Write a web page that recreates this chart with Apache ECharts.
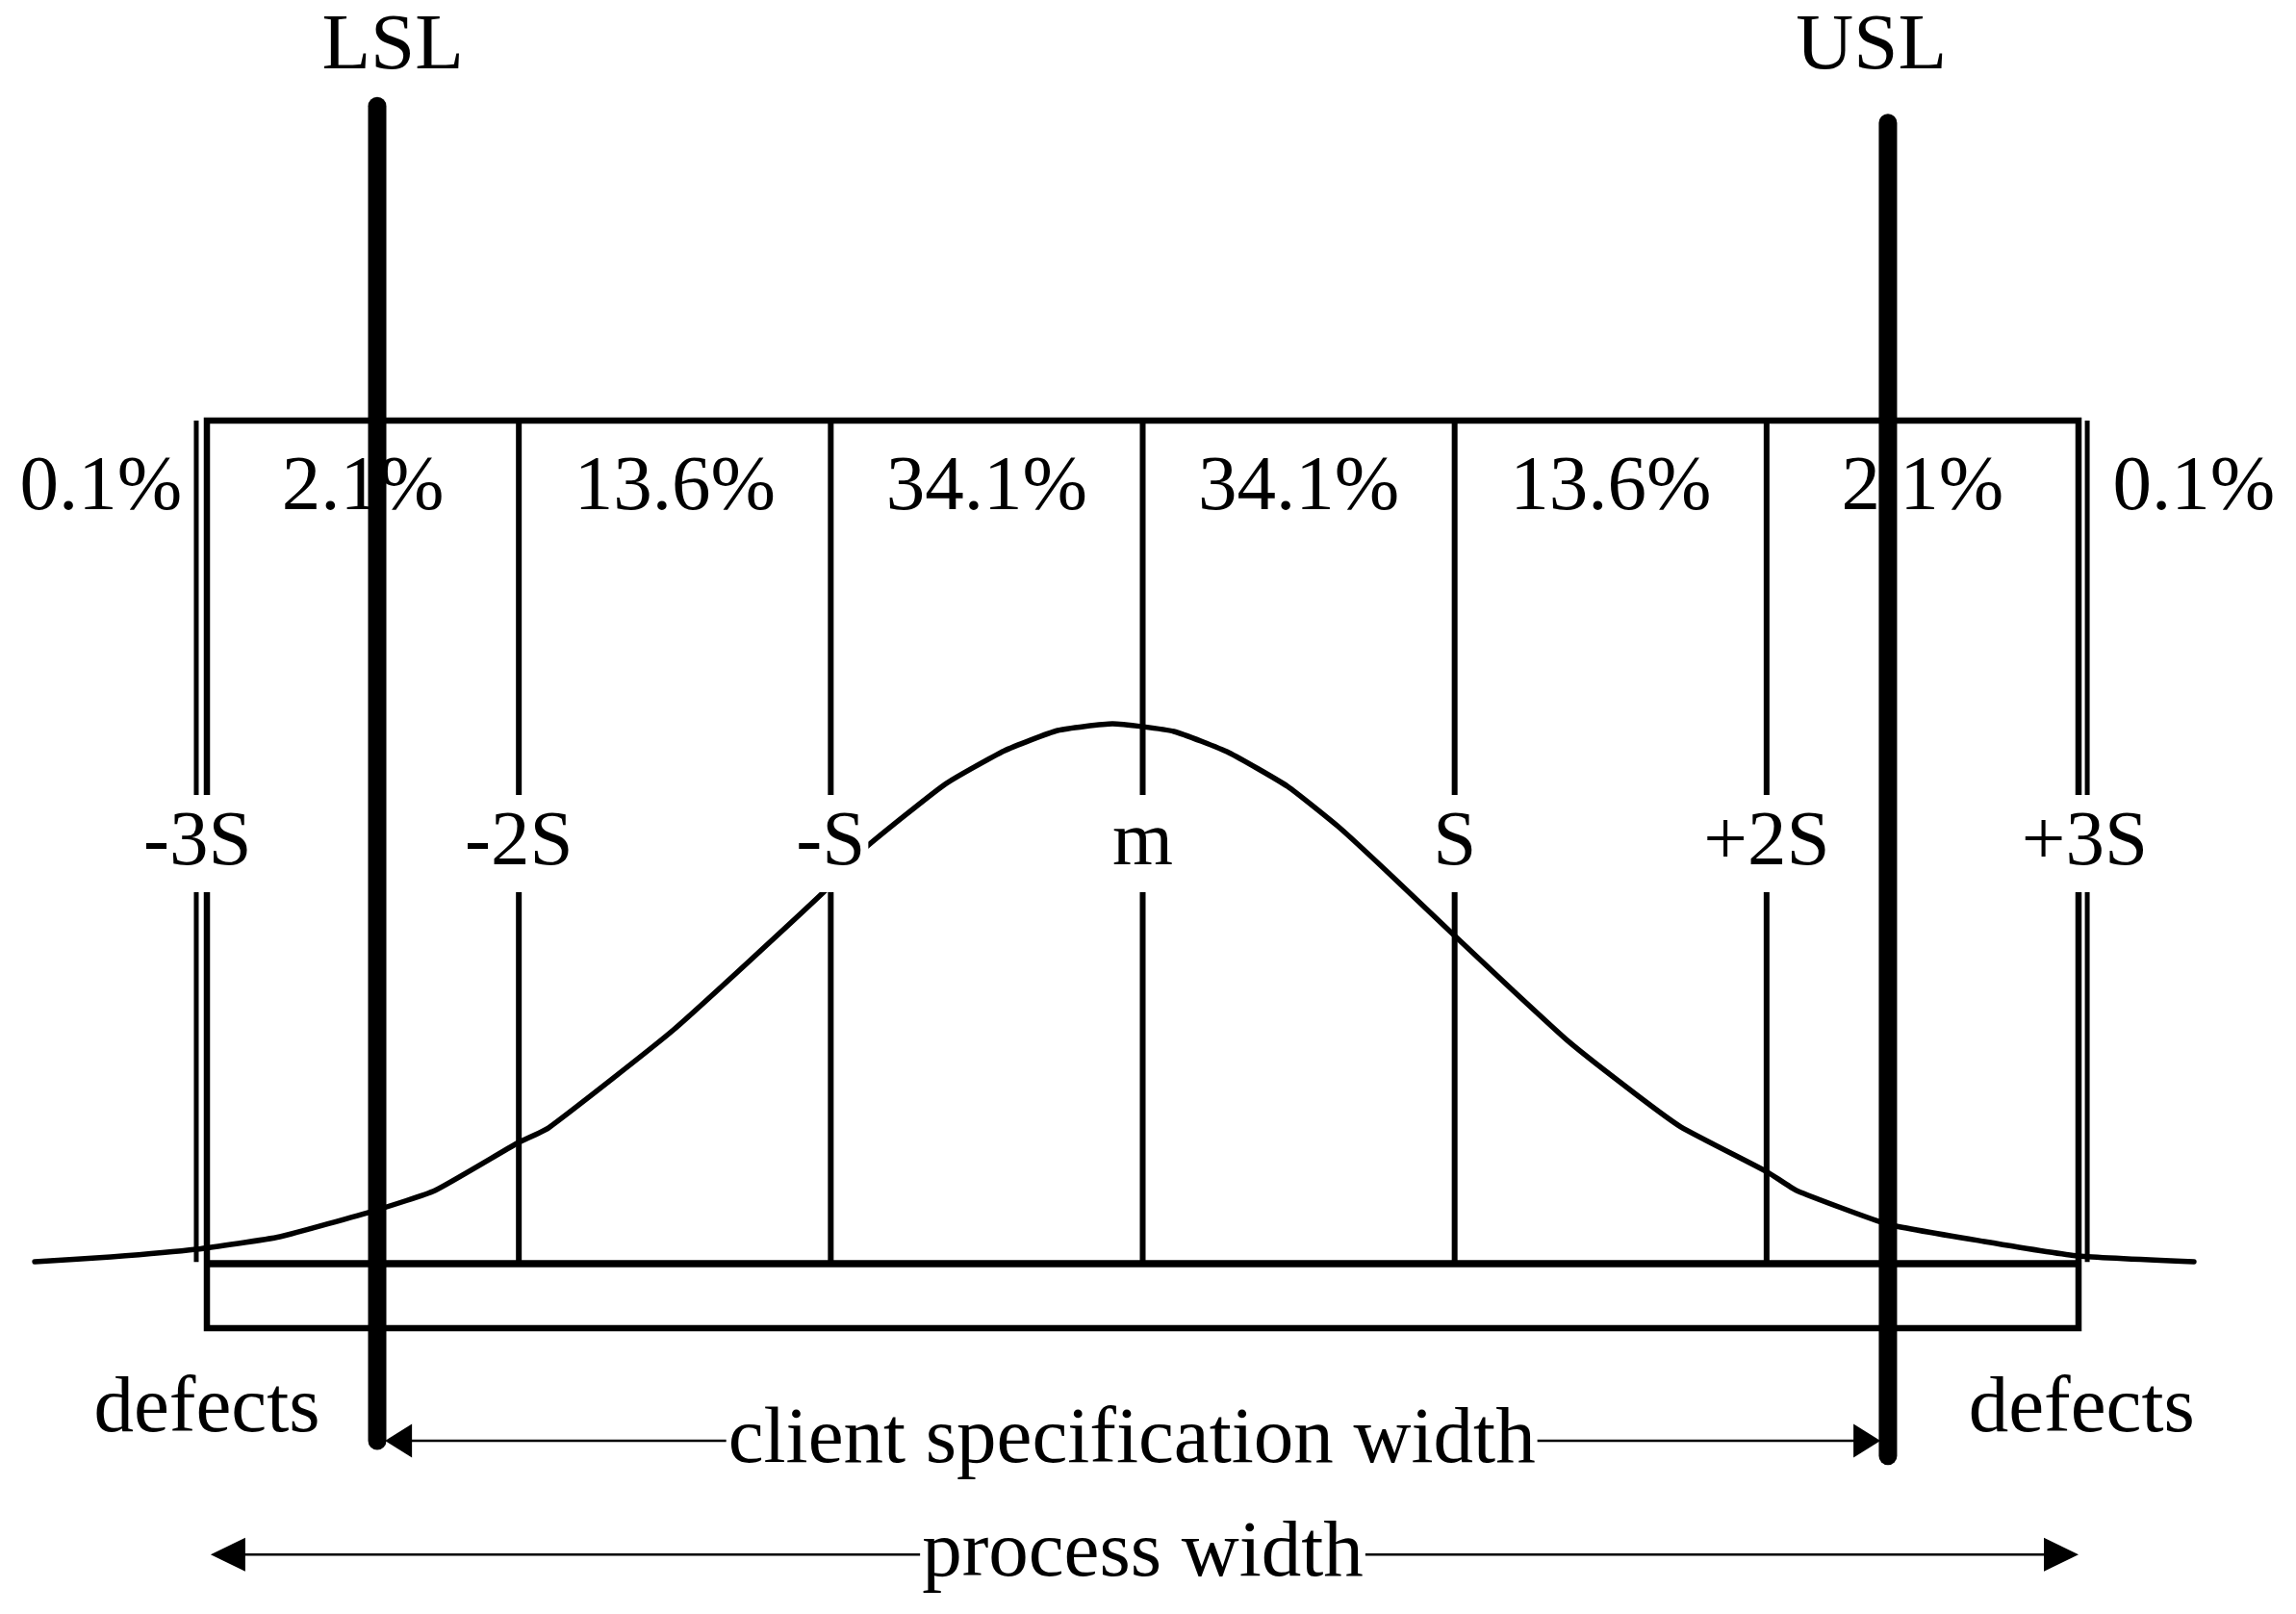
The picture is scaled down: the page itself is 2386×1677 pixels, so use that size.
<!DOCTYPE html>
<html><head><meta charset="utf-8">
<script src="https://cdn.jsdelivr.net/npm/echarts@6/dist/echarts.min.js"></script>
<style>html,body{margin:0;padding:0;background:#fff}#c{width:2386px;height:1677px}</style>
</head><body><div id="c"></div>
<script>
// ---- data (x in sigma units, y in relative height: 0 = baseline, 100 = top of band frame) ----
const sigmaTicks = [-3, -2, -1, 0, 1, 2, 3];
const sigmaLabels = ['-3S', '-2S', '-S', 'm', 'S', '+2S', '+3S'];
const sigmaLabelX = [-3.03, -2, -1, 0, 1, 2, 3.02];
const bandShares = ['0.1%', '2.1%', '13.6%', '34.1%', '34.1%', '13.6%', '2.1%', '0.1%'];
const bandLabelX = [-3.34, -2.5, -1.5, -0.5, 0.5, 1.5, 2.5, 3.37];
const curveX = [-3.552, -3.308, -3.034, -2.766, -2.454, -2.269, -2.006, -1.905, -1.504, -1.023, -0.893, -0.634, -0.443, -0.273, -0.097, 0.100, 0.276, 0.464, 0.631, 0.788, 0.986, 1.183, 1.368, 1.581, 1.726, 2.004, 2.096, 2.389, 2.698, 3.000, 3.370];
const curveY = [0.23, 0.80, 1.71, 3.20, 6.39, 8.68, 14.27, 16.10, 27.74, 44.06, 49.20, 56.85, 60.84, 63.24, 64.04, 63.13, 60.62, 56.62, 51.71, 46.35, 39.38, 32.53, 26.26, 20.09, 16.2, 10.84, 8.68, 4.68, 2.63, 0.91, 0.23];
const specLimits = ['LSL', 'USL'];
const specLimitX = [-2.454, 2.389];
const specLimitTop = [137.3, 135.3];
const specLimitBottom = [-21.0, -22.8];
const specLabelX = [-2.404, 2.336];
const processMarkX = [-3.034, 3.028];
const defectLabels = ['defects', 'defects'];
const defectLabelX = [-3.0, 3.01];
const widthLabels = ['client specification width', 'process width'];
const widthFrom = [-2.429, -2.988];
const widthTo = [2.365, 3.0];
const widthLevel = [-21.0, -34.5];
const widthLabelX = [-0.035, 0];

// ---- layout constants ----
const W = 2386, FRAME_LEFT = 215, FRAME_RIGHT = 226;
const PX_PER_SIGMA = (W - FRAME_LEFT - FRAME_RIGHT) / 6;
const X_MIN = -3 - FRAME_LEFT / PX_PER_SIGMA;
const X_MAX = 3 + FRAME_RIGHT / PX_PER_SIGMA;
const TOP = 100, BASE = 0, BAND_BOTTOM = -7.65;
const ROW_SHARE = 92.35, ROW_SIGMA = 50.29, ROW_SPEC = 144.75, ROW_DEFECT = -16.9;
const FONT = 'Liberation Serif, Times New Roman, serif';
const FS = 81, FS_WORD = 83;
const TEXT_NUDGE = [0, 4];

const chart = echarts.init(document.getElementById('c'), null, {renderer: 'canvas'});

function seg(points, width, z, extra) {
  return Object.assign({
    type: 'line', data: points, symbol: 'none', clip: false, silent: true, z: z,
    lineStyle: {color: '#000', width: width, cap: 'butt', join: 'miter'},
    animation: false
  }, extra || {});
}
function textSeries(xs, names, y, z, labelExtra) {
  return {
    type: 'scatter', clip: false, silent: true, z: z, animation: false,
    symbolSize: 0.1, itemStyle: {color: 'rgba(0,0,0,0)', opacity: 1},
    data: xs.map((x, i) => ({name: names[i], value: [x, Array.isArray(y) ? y[i] : y]})),
    label: Object.assign({
      show: true, position: 'inside', formatter: '{b}', color: '#000', opacity: 1,
      fontFamily: FONT, fontSize: FS, align: 'center', verticalAlign: 'middle',
      offset: TEXT_NUDGE
    }, labelExtra || {})
  };
}

const series = [];
// frame of the sigma bands
series.push(seg([[-3, BASE], [-3, TOP], [3, TOP], [3, BASE]], 6.5, 2));
series.push(seg([[-3, BASE], [3, BASE]], 7.5, 2));
series.push(seg([[-3, BASE], [-3, BAND_BOTTOM], [3, BAND_BOTTOM], [3, BASE]], 6.5, 2));
// inner sigma lines
sigmaTicks.filter(t => Math.abs(t) < 3).forEach(t => series.push(seg([[t, BASE], [t, TOP]], 6, 2)));
// outer process marks (double line at +-3S)
processMarkX.forEach(x => series.push(seg([[x, BASE + 0.2], [x, TOP]], 5, 2)));
// bell curve
series.push(seg(curveX.map((x, i) => [x, curveY[i]]), 5.5, 3, {smooth: 0.15, lineStyle: {color: '#000', width: 5.5, cap: 'round', join: 'round'}}));
// sigma labels with white boxes interrupting the lines
series.push(textSeries(sigmaLabelX, sigmaLabels, ROW_SIGMA, 4, {backgroundColor: '#fff', lineHeight: 101, padding: [0, 3]}));
// band shares
series.push(textSeries(bandLabelX, bandShares, ROW_SHARE, 4));
// LSL / USL names
series.push(textSeries(specLabelX, specLimits, ROW_SPEC, 4, {fontSize: FS_WORD}));
// defects
series.push(textSeries(defectLabelX, defectLabels, ROW_DEFECT, 4, {fontSize: FS_WORD}));
// width arrows
series.push({
  type: 'custom', silent: true, z: 5, animation: false, clip: false,
  data: widthFrom.map((f, i) => [f, widthTo[i], widthLevel[i], i]),
  renderItem: function (params, api) {
    const a = api.coord([api.value(0), api.value(2)]);
    const b = api.coord([api.value(1), api.value(2)]);
    const L = api.value(3) === 0 ? 28 : 36, H = 35;
    return {
      type: 'group', children: [
        {type: 'line', shape: {x1: a[0] + L - 2, y1: a[1], x2: b[0] - L + 2, y2: b[1]}, style: {stroke: '#000', lineWidth: 2.6}},
        {type: 'polygon', shape: {points: [[a[0], a[1]], [a[0] + L, a[1] - H / 2], [a[0] + L, a[1] + H / 2]]}, style: {fill: '#000'}},
        {type: 'polygon', shape: {points: [[b[0], b[1]], [b[0] - L, b[1] - H / 2], [b[0] - L, b[1] + H / 2]]}, style: {fill: '#000'}}
      ]
    };
  }
});
series.push(textSeries(widthLabelX, widthLabels, widthLevel, 6, {backgroundColor: '#fff', padding: [0, 2], offset: [0, 0], fontSize: FS_WORD}));
// spec limit thick lines (drawn on top)
specLimitX.forEach((x, i) => series.push(seg([[x, specLimitBottom[i]], [x, specLimitTop[i]]], 19, 7, {lineStyle: {color: '#000', width: 19, cap: 'round'}})));

chart.setOption({
  backgroundColor: '#fff',
  animation: false,
  grid: {left: 0, right: 0, top: 437, bottom: 364, containLabel: false},
  xAxis: {type: 'value', min: X_MIN, max: X_MAX, show: false},
  yAxis: {type: 'value', min: 0, max: 100, show: false},
  series: series
});
</script>
</body></html>
